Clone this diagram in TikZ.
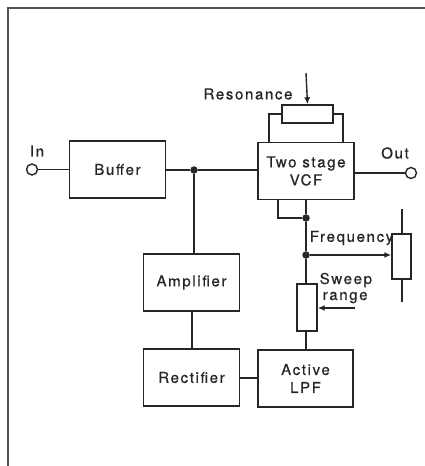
\documentclass[tikz,border=0pt]{standalone}
\usepackage{fontspec}
\setmainfont[LetterSpace=11,FakeBold=0.6]{TeX Gyre Heros}
\usetikzlibrary{arrows.meta,calc}
\definecolor{ink}{gray}{0.15}
\begin{document}
\begin{tikzpicture}[x=1pt,y=-1pt,
  line width=1.4pt, draw=ink,
  blk/.style={draw=ink,line width=1.4pt,minimum width=96pt,minimum height=57pt,inner sep=0pt,align=center,font=\fontsize{15}{18}\selectfont,text=ink},
  pot/.style={draw=ink,line width=1.4pt,inner sep=0pt},
  lbl/.style={font=\fontsize{15}{15}\selectfont,text=ink,inner sep=0pt,align=center},
  jdot/.style={circle,fill=ink,inner sep=0pt,minimum size=7.5pt},
  term/.style={circle,draw=ink,fill=white,inner sep=0pt,minimum size=11pt,line width=1.4pt},
  wiper/.style={-{Latex[length=7pt,width=6pt]},line width=1.4pt,draw=ink}]
\useasboundingbox (0,0) rectangle (425,466);
% frame
\draw[line width=1.8pt,draw=ink!80] (8,466) -- (8,8) -- (425,8);
% blocks
\node[blk] (buf) at (117.5,169.5) {Buffer};
\node[blk] (vcf) at (306,171) {Two stage\\VCF};
\node[blk] (amp) at (191.5,282.5) {Amplifier};
\node[blk] (rect) at (191.5,377.5) {Rectifier};
\node[blk,minimum width=95pt] (lpf) at (305.5,378.5) {Active\\LPF};
% pots
\node[pot,minimum width=51pt,minimum height=18pt] (rpot) at (307.5,114) {};
\node[pot,minimum width=20pt,minimum height=47pt] (spot) at (307,307.5) {};
\node[pot,minimum width=19pt,minimum height=45pt] (fpot) at (401.5,256.5) {};
% terminals
\node[term] (in) at (32,169.5) {};
\node[term] (out) at (411,173) {};
% junctions
\node[jdot] (j1) at (194,170) {};
\node[jdot] (j2) at (306,218) {};
\node[jdot] (j3) at (306,255) {};
% coordinates
\coordinate (rtop) at (306,73);
\coordinate (sw) at (355,308);
\coordinate (ftop) at (402,209);
\coordinate (fbot) at (402,302);
% labels
\node[lbl] (tin) at (37,151) {In};
\node[lbl] (tout) at (395,153) {Out};
\node[lbl] (tres) at (248,94) {Resonance};
\node[lbl,anchor=east] (tfreq) at (394,238) {Frequency};
\node[lbl,anchor=west,align=left] (tsw) at (319,288) {\hspace*{0pt}Sweep\\[1pt]\hspace*{3pt}range};
% signal path
\draw (in.east) -- (buf.west);
\draw (buf.east |- j1) -- (j1) -- (vcf.west |- j1);
\draw (vcf.east |- out) -- (out.west);
\draw (j1) -- (j1 |- amp.north);
\draw (amp.south -| 192,0) -- (rect.north -| 192,0);
\draw (rect.east |- 0,378) -- (lpf.west |- 0,378);
% resonance pot loop
\draw (vcf.north -| 269,0) |- (rpot.west);
\draw (vcf.north -| 343,0) |- (rpot.east);
\draw[wiper] (rtop) -- (rpot.north);
% VCF control loop
\draw (vcf.south -| 278,0) |- (j2);
\draw (vcf.south -| j2) -- (j2) -- (j3) -- (spot.north -| j3);
\draw (spot.south -| j3) -- (lpf.north -| j3);
\draw[wiper] (sw) -- (spot.east |- sw);
% frequency pot
\draw[wiper] (j3) -- (fpot.west |- j3);
\draw (ftop) -- (fpot.north -| ftop);
\draw (fpot.south -| fbot) -- (fbot);
\end{tikzpicture}
\end{document}
